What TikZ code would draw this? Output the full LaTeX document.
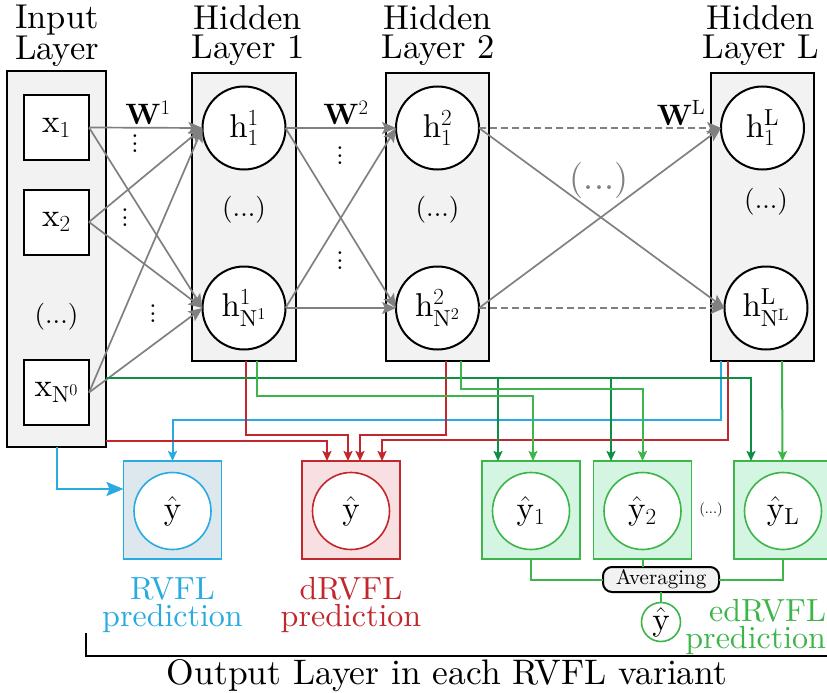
\RequirePackage{fix-cm}
\documentclass[tikz,border=0pt]{standalone}
\usepackage{amsmath}
\usepackage{fontspec}
\setmainfont{lmroman10-regular}[Extension=.otf,BoldFont=lmroman10-bold,ItalicFont=lmroman10-italic,BoldItalicFont=lmroman10-bolditalic]
\usetikzlibrary{arrows.meta,calc}

\definecolor{layergray}{HTML}{F2F2F2}
\definecolor{wiregray}{HTML}{808080}
\definecolor{rvflblue}{HTML}{29ABE2}
\definecolor{rvflbluefill}{HTML}{DCE8EE}
\definecolor{drvflred}{HTML}{C1272D}
\definecolor{drvflredfill}{HTML}{F7DFE2}
\definecolor{edgreen}{HTML}{3DB54A}
\definecolor{eddarkgreen}{HTML}{0E8F45}
\definecolor{edgreenfill}{HTML}{D5F5E3}

\newcommand{\fs}[1]{\fontsize{#1}{#1}\selectfont}

\begin{document}
\begin{tikzpicture}[x=1pt,y=-1pt,
  every node/.style={inner sep=0pt,outer sep=0pt},
  title/.style={align=center,font=\fontsize{34.5}{29}\selectfont},
  layerbox/.style={draw=black,line width=2pt,fill=layergray},
  inbox/.style={draw=black,line width=2pt,fill=white,minimum size=65pt,font=\fs{33}},
  neuron/.style={circle,draw=black,line width=2pt,fill=white,minimum size=83pt,font=\fs{33}},
  dotsnode/.style={font=\fs{27}},
  wlabel/.style={font=\fs{29.5}},
  wire/.style={draw=wiregray,line width=1.7pt,-{Stealth[length=14pt,width=12pt,inset=3pt]}},
  dashedwire/.style={wire,dash pattern=on 7pt off 4pt},
  vdotsmark/.style={font=\fs{26}},
  outbox/.style={draw=#1,line width=1.6pt,minimum width=98pt,minimum height=98pt},
  outneuron/.style={circle,draw=#1,line width=1.6pt,fill=white,minimum size=77pt,font=\fs{33}},
  feed/.style={draw=#1,line width=2pt,-{Stealth[length=10pt,width=9pt,inset=2pt]}},
  plainfeed/.style={draw=#1,line width=2pt},
  predlabel/.style={align=center,font=\fontsize{32}{27}\selectfont,text=#1},
]
\useasboundingbox (0,0) rectangle (827,693);
\clip (0,0) rectangle (827,693);

% ---- layer titles ----
\node[title] (tIn) at (57,36) {Input\\Layer};
\node[title] (tH1) at (248,36) {Hidden\\Layer 1};
\node[title] (tH2) at (438,36) {Hidden\\Layer 2};
\node[title] (tHL) at (761,36) {Hidden\\Layer L};

% ---- layer containers ----
\node[layerbox,minimum width=99pt,minimum height=376pt] (inL) at (56.5,259) {};
\node[layerbox,minimum width=104pt,minimum height=288pt] (h1) at (244,217) {};
\node[layerbox,minimum width=103pt,minimum height=288pt] (h2) at (437.5,217) {};
\node[layerbox,minimum width=103pt,minimum height=288pt] (hL) at (762.5,217) {};

% ---- input units ----
\node[inbox] (x1) at (56.5,127.5) {$\mathrm{x}_{1}$};
\node[inbox] (x2) at (56.5,222) {$\mathrm{x}_{2}$};
\node[dotsnode] (xd) at (56.5,317) {(...)};
\node[inbox] (xN) at (56.5,392.5) {$\mathrm{x}_{\mathrm{N}^{0}}$};

% ---- hidden units ----
\node[neuron] (h11) at (244,128) {$\mathrm{h}^{1}_{1}$};
\node[dotsnode] (h1d) at (244,210) {(...)};
\node[neuron] (h1N) at (244,308) {$\mathrm{h}^{1}_{\mathrm{N}^{1}}$};

\node[neuron] (h21) at (437.5,128) {$\mathrm{h}^{2}_{1}$};
\node[dotsnode] (h2d) at (437.5,210) {(...)};
\node[neuron] (h2N) at (437.5,308) {$\mathrm{h}^{2}_{\mathrm{N}^{2}}$};

\node[neuron] (hL1) at (762.5,128) {$\mathrm{h}^{\mathrm{L}}_{1}$};
\node[dotsnode] (hLd) at (766,202) {(...)};
\node[neuron] (hLN) at (766,308) {$\mathrm{h}^{\mathrm{L}}_{\mathrm{N}^{\mathrm{L}}}$};

% ---- random weights between layers ----
\draw[wire] (x1.east) -- (h11.west);
\draw[wire] (x1.east) -- (h1N.west);
\draw[wire] (x2.east) -- (h11.west);
\draw[wire] (x2.east) -- (h1N.west);
\draw[wire] (xN.east) -- (h11.west);
\draw[wire] (xN.east) -- (h1N.west);

\draw[wire] (h11.east) -- (h21.west);
\draw[wire] (h11.east) -- (h2N.west);
\draw[wire] (h1N.east) -- (h21.west);
\draw[wire] (h1N.east) -- (h2N.west);

\draw[dashedwire] (h21.east) -- (hL1.west);
\draw[wire] (h21.east) -- (hLN.west);
\draw[wire] (h2N.east) -- (hL1.west);
\draw[dashedwire] (h2N.east) -- (hLN.west);

\node[wlabel] (w1) at (148,113) {$\mathbf{W}^{1}$};
\node[wlabel] (w2) at (346,113) {$\mathbf{W}^{2}$};
\node[wlabel] (wL) at (681,113) {$\mathbf{W}^{\mathrm{L}}$};

\node[vdotsmark] (vd1) at (135,144) {\vbox{\baselineskip=7.5pt\hbox{.}\hbox{.}\hbox{.}}};
\node[vdotsmark] (vd2) at (125,218) {\vbox{\baselineskip=7.5pt\hbox{.}\hbox{.}\hbox{.}}};
\node[vdotsmark] (vd3) at (153,314) {\vbox{\baselineskip=7.5pt\hbox{.}\hbox{.}\hbox{.}}};
\node[vdotsmark] (vd4) at (340,156) {\vbox{\baselineskip=7.5pt\hbox{.}\hbox{.}\hbox{.}}};
\node[vdotsmark] (vd5) at (340,261) {\vbox{\baselineskip=7.5pt\hbox{.}\hbox{.}\hbox{.}}};

\node[font=\fs{36},text=wiregray] (midd) at (599,180) {(...)};

% ---- output layers ----
\node[outbox=rvflblue,fill=rvflbluefill] (rvfl) at (172.5,510) {};
\node[outneuron=rvflblue] (yr) at (172.5,511) {$\hat{\mathrm{y}}$};

\node[outbox=drvflred,fill=drvflredfill] (drvfl) at (351,510) {};
\node[outneuron=drvflred] (yd) at (351,511) {$\hat{\mathrm{y}}$};

\node[outbox=edgreen,fill=edgreenfill] (ed1) at (531,510) {};
\node[outneuron=edgreen] (ye1) at (531,511) {$\hat{\mathrm{y}}_{1}$};
\node[outbox=edgreen,fill=edgreenfill] (ed2) at (642.5,510) {};
\node[outneuron=edgreen] (ye2) at (642.5,511) {$\hat{\mathrm{y}}_{2}$};
\node[font=\fs{14.5}] (edd) at (711,510) {(...)};
\node[outbox=edgreen,fill=edgreenfill] (ed3) at (783,510) {};
\node[outneuron=edgreen] (ye3) at (783,511) {$\hat{\mathrm{y}}_{\mathrm{L}}$};

\node[draw=black,line width=2pt,fill=layergray,rounded corners=9pt,
      minimum width=116pt,minimum height=25pt,font=\fs{21}] (avg) at (661,579.5) {Averaging};
\node[circle,draw=edgreen,line width=1.6pt,fill=white,minimum size=39pt,font=\fs{33}] (yavg) at (661,622) {$\hat{\mathrm{y}}$};

\draw[plainfeed=edgreen] (ed1.south) |- (avg.west);
\draw[plainfeed=edgreen] (ed2.south) -- (ed2.south |- avg.north);
\draw[plainfeed=edgreen] (ed3.south) |- (avg.east);
\draw[plainfeed=edgreen] (avg.south) -- (yavg.north);

% ---- RVFL (direct links + last hidden layer) ----
\draw[plainfeed=rvflblue,-{Stealth[length=17pt,width=14pt,inset=3pt]}] (inL.south) |- ([yshift=21pt]rvfl.west);
\draw[feed=rvflblue] ([xshift=10pt]hL.south west) -- ++(0,59) -| (rvfl.north);

% ---- dRVFL (input + every hidden layer) ----
\draw[feed=drvflred] ([yshift=6pt]inL.south east) -| ([xshift=-24pt]drvfl.north);
\draw[feed=drvflred] ([xshift=2pt]h1.south) -- ++(0,74) -| ([xshift=-3pt]drvfl.north);
\draw[feed=drvflred] ([xshift=8.5pt]h2.south) -- ++(0,74) -| ([xshift=9pt]drvfl.north);
\draw[feed=drvflred] ([xshift=17pt]hL.south west) -- ++(0,79) -| ([xshift=31pt]drvfl.north);

% ---- edRVFL (input bus to every output + own hidden layer) ----
\coordinate (gbus) at ([yshift=-119pt]inL.east);
\coordinate (e1in) at ([xshift=-33pt]ed1.north);
\coordinate (e2in) at ([xshift=-31.5pt]ed2.north);
\draw[feed=eddarkgreen] (gbus) -| ([xshift=-32pt]ed3.north);
\draw[feed=eddarkgreen] (gbus -| e1in) -- (e1in);
\draw[feed=eddarkgreen] (gbus -| e2in) -- (e2in);

\draw[feed=edgreen] ([xshift=13pt]h1.south) -- ++(0,35) -| ([xshift=2pt]ed1.north);
\draw[feed=edgreen] ([xshift=23.5pt]h2.south) -- ++(0,28) -| (ed2.north);
\draw[feed=edgreen] ([xshift=19.5pt]hL.south) -- ([xshift=-0.5pt]ed3.north);

% ---- captions ----
\node[predlabel=rvflblue] (prv) at (172.5,605) {RVFL\\prediction};
\node[predlabel=drvflred] (pdr) at (351,605) {dRVFL\\prediction};
\node[predlabel=edgreen,align=right,anchor=east] (ped) at (826,627) {edRVFL\\prediction};

\coordinate (brk) at (86,633);
\draw[line width=1.6pt] (brk) |- (827,656);
\node[font=\fs{35.5}] (outcap) at (447,676) {Output Layer in each RVFL variant};
\end{tikzpicture}
\end{document}
